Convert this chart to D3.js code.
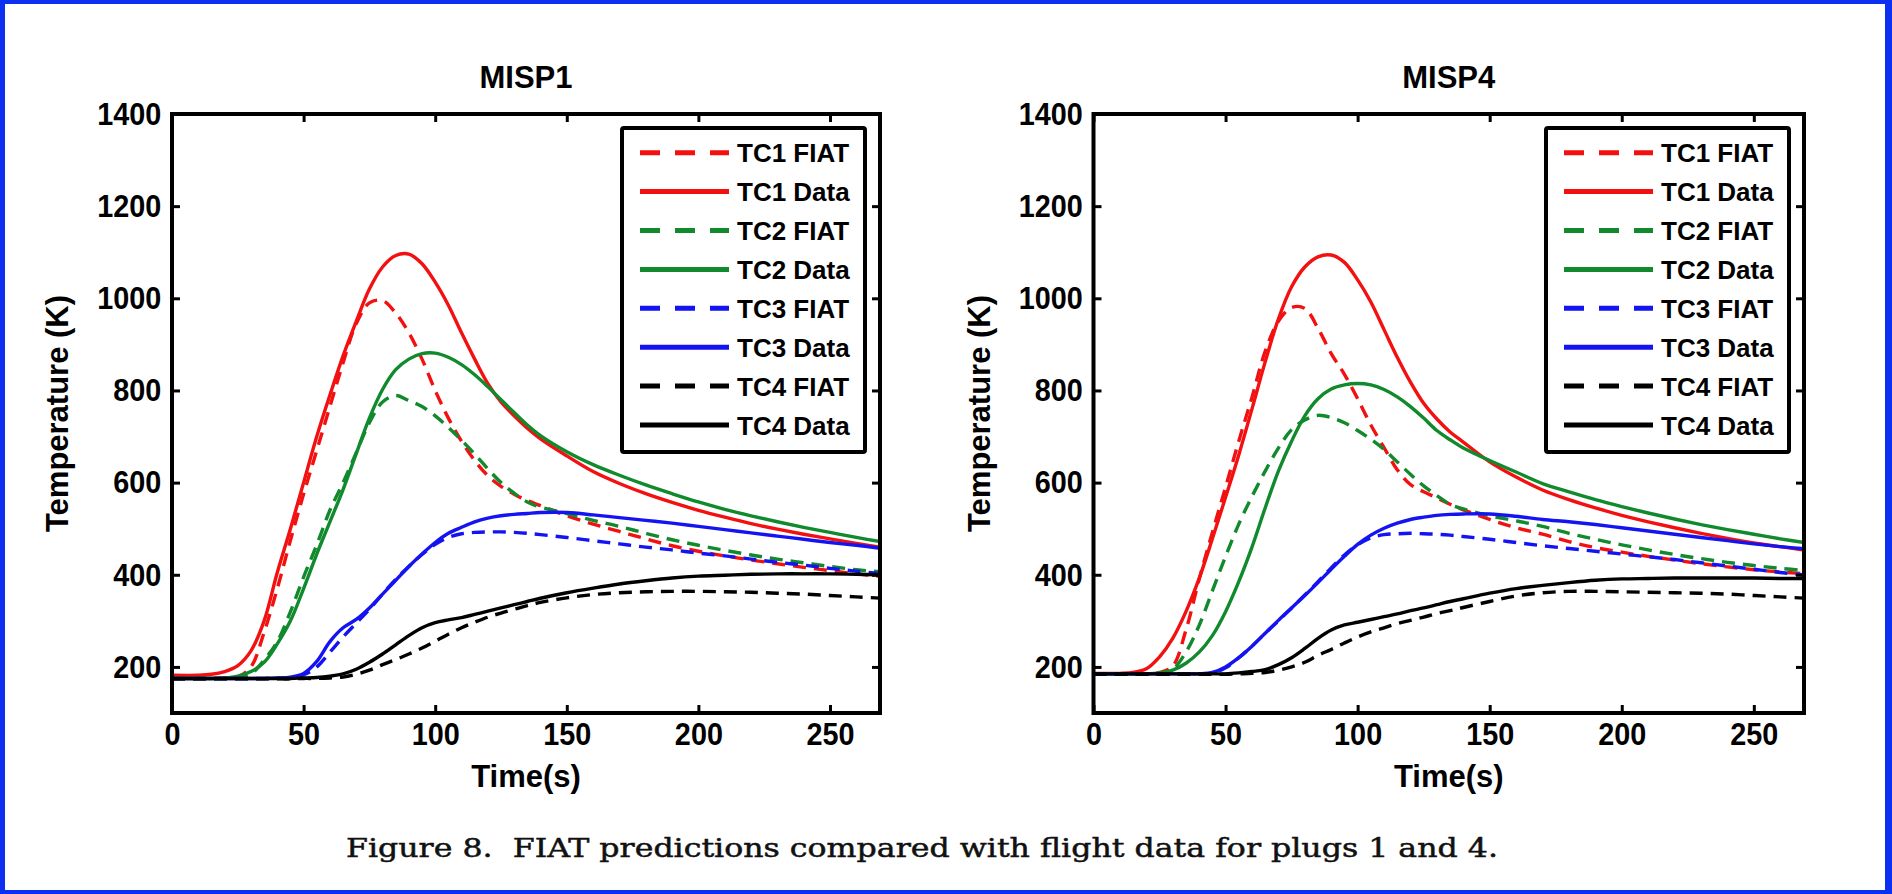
<!DOCTYPE html>
<html>
<head>
<meta charset="utf-8">
<script src="https://cdn.jsdelivr.net/npm/d3@7"></script>
<style>
  body { margin: 0; background: #fff; }
  svg { display: block; }
  text { font-family: "Liberation Sans", Arial, Helvetica, sans-serif; font-weight: bold; fill: #000; }
  text.caption { font-family: "DejaVu Serif", serif; font-weight: normal; fill: #111; stroke: #111; stroke-width: 0.5; white-space: pre; }
</style>
</head>
<body>
<svg id="fig" width="1892" height="894"></svg>
<script>
// time grid (s) shared by all traces
const TIME = [0, 10, 15, 20, 25, 30, 35, 40, 45, 50, 55, 60, 65, 70, 75, 80, 85, 90, 95, 100,
  105, 110, 115, 120, 125, 130, 135, 140, 150, 160, 170, 180, 190, 200, 210, 220, 230, 240, 250, 260, 270];

// MISP1 temperatures (K)
const MISP1_TC1_FIAT = [175,175,175,176,178,200,275,370,475,575,670,765,860,945,990,995,968,925,868,800,740,690,648,615,592,575,561,550,528,510,494,478,463,451,441,432,424,416,409,402,396];
const MISP1_TC1_DATA = [182,182,184,190,203,235,300,405,500,600,700,790,875,950,1020,1068,1093,1096,1075,1035,985,925,868,815,775,745,718,695,658,624,598,576,557,540,525,511,499,488,478,468,459];
const MISP1_TC2_FIAT = [175,175,175,175,177,185,215,255,320,395,465,540,600,665,730,775,789,778,765,745,720,692,662,630,600,577,558,547,533,518,505,490,476,464,453,443,434,426,418,411,406];
const MISP1_TC2_DATA = [175,175,175,176,180,190,210,250,300,370,445,515,585,663,740,802,845,868,880,881,872,856,834,808,780,752,725,702,667,639,616,595,576,558,542,528,515,503,492,481,471];
const MISP1_TC3_FIAT = [175,175,175,175,175,175,175,176,177,183,200,232,265,295,325,358,390,418,444,466,481,489,492,493,493,492,490,487,481,474,467,460,454,447,441,434,427,421,414,408,402];
const MISP1_TC3_DATA = [175,175,175,175,175,175,175,176,178,186,212,255,285,303,328,358,388,418,445,470,490,503,515,523,528,531,533,535,535,530,524,518,512,505,498,491,484,477,470,464,457];
const MISP1_TC4_FIAT = [174,174,174,174,174,174,174,174,174,175,175,176,178,184,193,205,216,228,241,256,271,285,297,308,317,325,333,340,350,357,361,363,364,364,363,362,360,358,355,352,349];
const MISP1_TC4_DATA = [175,175,175,175,175,175,175,175,175,176,177,180,185,195,210,228,248,268,285,296,302,307,314,321,328,335,342,349,361,371,380,387,393,397,399,401,402,402,402,401,400];

// MISP4 temperatures (K)
const MISP4_TC1_FIAT = [185,185,185,185,188,202,280,390,492,590,690,785,885,950,980,978,935,880,835,782,725,676,628,596,580,567,553,541,520,502,488,472,459,449,440,432,424,417,411,406,402];
const MISP4_TC1_DATA = [186,186,188,196,222,262,320,392,478,568,660,760,862,955,1025,1068,1090,1094,1078,1040,992,932,872,818,772,738,710,688,645,612,584,563,545,529,515,502,490,479,469,461,453];
const MISP4_TC2_FIAT = [185,185,185,185,186,195,232,290,365,440,510,570,625,675,715,736,746,741,730,713,694,672,645,618,593,572,553,543,528,517,505,490,477,465,454,444,435,427,420,414,409];
const MISP4_TC2_DATA = [185,185,185,185,187,193,208,232,268,320,385,460,545,625,690,745,782,803,812,815,812,802,786,765,740,713,693,675,648,623,598,580,563,548,534,521,509,498,488,478,469];
const MISP4_TC3_FIAT = [185,185,185,185,185,185,185,185,187,198,220,245,273,300,328,356,385,415,443,465,480,487,489,490,489,488,486,483,477,470,463,457,451,445,439,433,426,419,412,405,399];
const MISP4_TC3_DATA = [185,185,185,185,185,185,185,185,188,200,220,245,273,301,328,355,383,412,440,466,486,501,512,520,525,529,531,532,532,527,520,515,509,502,495,488,481,474,467,461,456];
const MISP4_TC4_FIAT = [184,184,184,184,184,184,184,184,184,184,185,186,188,193,200,210,225,238,252,265,276,285,294,301,308,316,322,329,342,354,361,364,364,363,362,361,360,358,355,352,349];
const MISP4_TC4_DATA = [185,185,185,185,185,185,185,185,185,185,187,190,194,205,220,240,262,280,291,297,303,309,315,322,328,335,342,348,360,370,377,383,388,391,392,393,393,393,393,392,392];

const LABELS = ['TC1 FIAT', 'TC1 Data', 'TC2 FIAT', 'TC2 Data', 'TC3 FIAT', 'TC3 Data', 'TC4 FIAT', 'TC4 Data'];
const X_TICKS = [0, 50, 100, 150, 200, 250];
const Y_TICKS = [200, 400, 600, 800, 1000, 1200, 1400];
const X_DOMAIN = [0, 269];
const Y_DOMAIN = [100, 1400];

const COLORS = { TC1: '#f21010', TC2: '#108a2c', TC3: '#1414f2', TC4: '#000000' };

const PANELS = [
  { title: 'MISP1', left: 172, right: 880,
    series: [MISP1_TC1_FIAT, MISP1_TC1_DATA, MISP1_TC2_FIAT, MISP1_TC2_DATA, MISP1_TC3_FIAT, MISP1_TC3_DATA, MISP1_TC4_FIAT, MISP1_TC4_DATA] },
  { title: 'MISP4', left: 1093.5, right: 1804,
    series: [MISP4_TC1_FIAT, MISP4_TC1_DATA, MISP4_TC2_FIAT, MISP4_TC2_DATA, MISP4_TC3_FIAT, MISP4_TC3_DATA, MISP4_TC4_FIAT, MISP4_TC4_DATA] },
];

const TOP = 114;
const BOTTOM = 713;

const svg = d3.select('#fig');

svg.append('rect').attr('width', 1892).attr('height', 894).attr('fill', '#fff');

function drawPanel(p, idx) {
  const x = d3.scaleLinear().domain(X_DOMAIN).range([p.left, p.right]);
  const y = d3.scaleLinear().domain(Y_DOMAIN).range([BOTTOM, TOP]);

  const clipId = `clip-${idx}`;
  svg.append('clipPath').attr('id', clipId).append('rect')
    .attr('x', p.left).attr('y', TOP)
    .attr('width', p.right - p.left).attr('height', BOTTOM - TOP);

  const line = d3.line()
    .x(d => x(d[0]))
    .y(d => y(d[1]))
    .curve(d3.curveCatmullRom.alpha(0.5));

  const traces = p.series.map((vals, i) => ({
    label: LABELS[i],
    color: COLORS[LABELS[i].slice(0, 3)],
    dashed: LABELS[i].endsWith('FIAT'),
    points: TIME.map((t, j) => [t, vals[j]]),
  }));

  svg.append('g').attr('clip-path', `url(#${clipId})`)
    .selectAll('path').data(traces).join('path')
    .attr('d', d => line(d.points))
    .attr('fill', 'none')
    .attr('stroke', d => d.color)
    .attr('stroke-width', 3.4)
    .attr('stroke-dasharray', d => d.dashed ? '13,8' : null);

  // axes, ticks inward on all four sides
  const styleAxis = (sel) => {
    sel.select('.domain').remove();
    sel.selectAll('.tick line').attr('stroke', '#000').attr('stroke-width', 3);
    sel.attr('font-size', 32).attr('font-family', null);
    sel.selectAll('.tick text').attr('transform', 'scale(0.9,1)');
  };
  const fmt = d3.format('d');

  svg.append('g').attr('transform', `translate(0,${BOTTOM})`)
    .call(d3.axisBottom(x).tickValues(X_TICKS).tickFormat(fmt).tickSize(-8).tickPadding(9))
    .call(styleAxis);
  svg.append('g').attr('transform', `translate(0,${TOP})`)
    .call(d3.axisTop(x).tickValues(X_TICKS).tickSize(-8).tickFormat(''))
    .call(styleAxis);
  svg.append('g').attr('transform', `translate(${p.left},0)`)
    .call(d3.axisLeft(y).tickValues(Y_TICKS).tickFormat(fmt).tickSize(-8).tickPadding(12))
    .call(styleAxis);
  svg.append('g').attr('transform', `translate(${p.right},0)`)
    .call(d3.axisRight(y).tickValues(Y_TICKS).tickSize(-8).tickFormat(''))
    .call(styleAxis);

  svg.append('rect')
    .attr('x', p.left).attr('y', TOP)
    .attr('width', p.right - p.left).attr('height', BOTTOM - TOP)
    .attr('fill', 'none').attr('stroke', '#000').attr('stroke-width', 4);

  // title and axis labels
  const cx = (p.left + p.right) / 2;
  svg.append('text').attr('x', cx).attr('y', 88)
    .attr('text-anchor', 'middle').attr('font-size', 31).text(p.title);
  svg.append('text').attr('x', cx).attr('y', 787)
    .attr('text-anchor', 'middle').attr('font-size', 31).text('Time(s)');
  svg.append('text')
    .attr('transform', `translate(${p.left - 104},${(TOP + BOTTOM) / 2}) rotate(-90)`)
    .attr('text-anchor', 'middle').attr('font-size', 31).text('Temperature (K)');

  // legend
  const boxW = 243, boxH = 324, rowH = 38.9;
  const lg = svg.append('g').attr('transform', `translate(${p.right - 15 - boxW},128)`);
  lg.append('rect').attr('width', boxW).attr('height', boxH).attr('rx', 2)
    .attr('fill', '#fff').attr('stroke', '#000').attr('stroke-width', 4);
  const rows = lg.selectAll('g.row').data(traces).join('g')
    .attr('class', 'row')
    .attr('transform', (d, i) => `translate(0,${24.7 + i * rowH})`);
  rows.append('line')
    .attr('x1', 18).attr('x2', 107).attr('y1', 0).attr('y2', 0)
    .attr('stroke', d => d.color).attr('stroke-width', 5)
    .attr('stroke-dasharray', d => d.dashed ? '20,15' : null);
  rows.append('text').attr('x', 115).attr('y', 9.5)
    .attr('font-size', 26).text(d => d.label);
}

PANELS.forEach(drawPanel);

svg.append('text').attr('class', 'caption')
  .attr('x', 346).attr('y', 857)
  .attr('font-size', 26)
  .attr('textLength', 1152).attr('lengthAdjust', 'spacingAndGlyphs')
  .text('Figure 8.  FIAT predictions compared with flight data for plugs 1 and 4.');

// blue page frame
const FRAME = '#0b30f2';
svg.append('rect').attr('x', 0).attr('y', 0).attr('width', 1892).attr('height', 4).attr('fill', FRAME);
svg.append('rect').attr('x', 0).attr('y', 890).attr('width', 1892).attr('height', 4).attr('fill', FRAME);
svg.append('rect').attr('x', 0).attr('y', 0).attr('width', 5).attr('height', 894).attr('fill', FRAME);
svg.append('rect').attr('x', 1885).attr('y', 0).attr('width', 7).attr('height', 894).attr('fill', FRAME);
</script>
</body>
</html>
